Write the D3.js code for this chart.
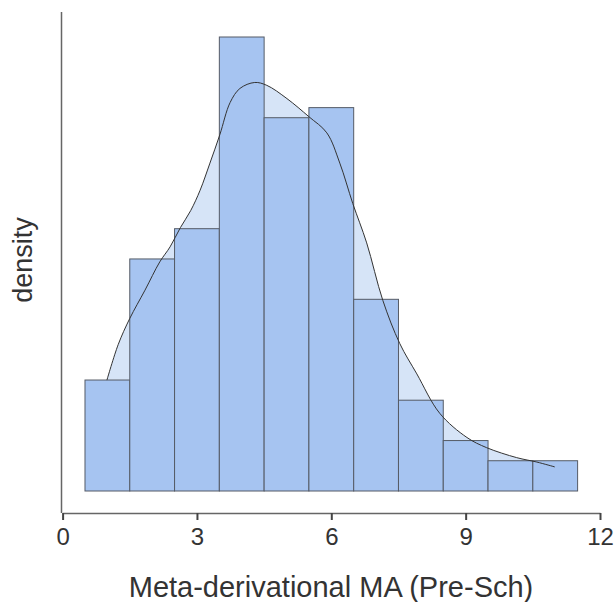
<!DOCTYPE html>
<html>
<head>
<meta charset="utf-8">
<script src="https://cdn.jsdelivr.net/npm/d3@7"></script>
<style>
  body { margin: 0; background: #fff; }
  text { font-family: "Liberation Sans", Arial, sans-serif; fill: #333; }
</style>
</head>
<body>
<svg id="chart" width="616" height="602"></svg>
<script>
// histogram bins (edges) and counts per bin
const binEdges = [0.5, 1.5, 2.5, 3.5, 4.5, 5.5, 6.5, 7.5, 8.5, 9.5, 10.5, 11.5];
const binCounts = [11, 23, 26, 45, 37, 38, 19, 9, 5, 3, 3];
const totalN = 219;

// density curve
const curveX = [0.99, 1.24, 1.50, 1.84, 2.17, 2.40, 2.63, 2.86, 3.07, 3.29, 3.51, 3.74, 3.96, 4.29, 4.56,
                5.01, 5.50, 5.90, 6.19, 6.48, 6.79, 7.15, 7.53, 7.91, 8.42, 9.03, 9.47, 10.14, 10.59, 10.99];
const curveY = [0.0502, 0.0662, 0.0781, 0.0909, 0.1037, 0.1105, 0.1192, 0.1269, 0.1361, 0.1484, 0.1612,
                0.1758, 0.1822, 0.1849, 0.1836, 0.1776, 0.1694, 0.1621, 0.1484, 0.1301, 0.1123, 0.0863,
                0.0667, 0.0530, 0.0352, 0.0242, 0.0196, 0.0151, 0.0131, 0.0109];

const xTicks = [0, 3, 6, 9, 12];
const xTitle = 'Meta-derivational MA (Pre-Sch)';
const yTitle = 'density';

const svg = d3.select('#chart');

/* Scales */
const x = d3.scaleLinear().domain([0, 12]).range([62.6, 600]);
const y = d3.scaleLinear().domain([0, 45 / totalN]).range([491, 37]);

const bins = binCounts.map((c, i) => ({ x0: binEdges[i], x1: binEdges[i + 1], d: c / totalN }));
const pts = curveX.map((v, i) => [v, curveY[i]]);

/* density fill behind the bars */
svg.append('path')
  .datum(pts)
  .attr('fill', '#d6e4f7')
  .attr('d', d3.area().x(d => x(d[0])).y0(y(0)).y1(d => y(d[1])).curve(d3.curveCatmullRom));

/* bars */
svg.selectAll('rect.bar')
  .data(bins)
  .enter()
  .append('rect')
  .attr('class', 'bar')
  .attr('x', d => x(d.x0))
  .attr('y', d => y(d.d))
  .attr('width', d => x(d.x1) - x(d.x0))
  .attr('height', d => y(0) - y(d.d))
  .attr('fill', '#a6c4f1')
  .attr('stroke', '#555b66')
  .attr('stroke-width', 1);

/* density line */
svg.append('path')
  .datum(pts)
  .attr('fill', 'none')
  .attr('stroke', '#333')
  .attr('stroke-width', 1)
  .attr('d', d3.line().x(d => x(d[0])).y(d => y(d[1])).curve(d3.curveCatmullRom));

/* x axis */
const xAxis = d3.axisBottom(x).tickValues(xTicks).tickSize(7).tickSizeOuter(0).tickPadding(8);
const gx = svg.append('g')
  .attr('transform', 'translate(0,513)')
  .call(xAxis);
gx.select('.domain').attr('stroke', '#666').attr('stroke-width', 1.5);
gx.selectAll('.tick line').attr('stroke', '#444').attr('stroke-width', 2);
gx.selectAll('.tick text')
  .attr('font-size', 24)
  .attr('font-family', '"Liberation Sans", Arial, sans-serif')
  .attr('fill', '#333');

/* y axis: line only */
svg.append('line')
  .attr('x1', 61.5).attr('x2', 61.5)
  .attr('y1', 12).attr('y2', 513)
  .attr('stroke', '#666')
  .attr('stroke-width', 1.5);

/* titles */
svg.append('text')
  .attr('x', 331)
  .attr('y', 597)
  .attr('text-anchor', 'middle')
  .attr('font-size', 29)
  .text(xTitle);

svg.append('text')
  .attr('transform', 'translate(32,260) rotate(-90)')
  .attr('text-anchor', 'middle')
  .attr('font-size', 27)
  .text(yTitle);
</script>
</body>
</html>
